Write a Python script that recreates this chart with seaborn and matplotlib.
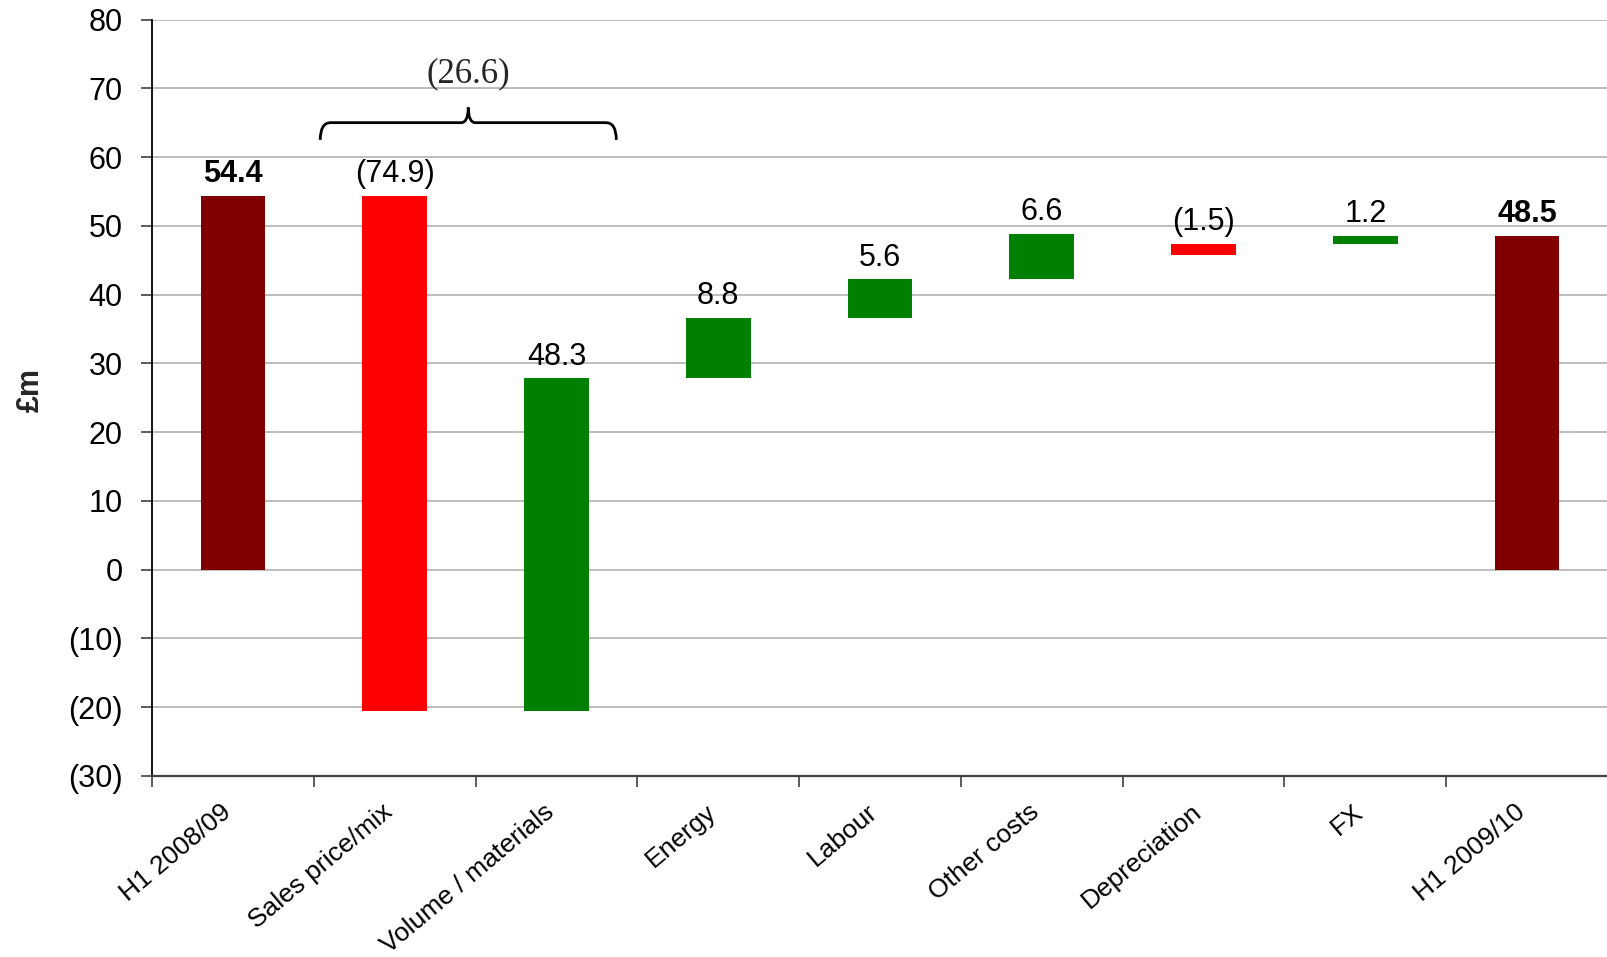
import numpy as np
import pandas as pd
import matplotlib
matplotlib.use("Agg")
import matplotlib.pyplot as plt
from matplotlib.path import Path
from matplotlib.patches import PathPatch
from matplotlib.ticker import FuncFormatter, FixedLocator
from matplotlib.transforms import ScaledTranslation
import seaborn as sns

# ---- data ----
categories = ["H1 2008/09", "Sales price/mix", "Volume / materials", "Energy",
              "Labour", "Other costs", "Depreciation", "FX", "H1 2009/10"]
changes = [54.4, -74.9, 48.3, 8.8, 5.6, 6.6, -1.5, 1.2, 48.5]
# invisible base series of the floating bars
bases = [0.0, -20.5, -20.5, 27.8, 36.6, 42.2, 45.8, 47.3, 0.0]
is_total = [True, False, False, False, False, False, False, False, True]
bracket_label = "(26.6)"
bracket_span = ["Sales price/mix", "Volume / materials"]
y_ticks = list(range(-30, 81, 10))

heights = [abs(v) for v in changes]

colors = []
for v, t in zip(changes, is_total):
    if t:
        colors.append("#800000")
    elif v >= 0:
        colors.append("#008000")
    else:
        colors.append("#FF0000")

def fmt_val(v):
    return f"({abs(v):.1f})" if v < 0 else f"{v:.1f}"

df = pd.DataFrame({"category": categories, "height": heights})

sns.set_theme(style="white")
plt.rcParams["font.family"] = ["Liberation Sans", "DejaVu Sans"]

fig = plt.figure(figsize=(16.08, 9.57), dpi=100)
ax = fig.add_axes([152 / 1608, 1 - 776 / 957, 1 - 152 / 1608, (776 - 19.5) / 957])

sns.barplot(data=df, x="category", y="height", order=categories, width=0.4,
            errorbar=None, bottom=np.array(bases), color="#800000", saturation=1,
            ax=ax, zorder=3, linewidth=0)
for p, c in zip(ax.patches, colors):
    p.set_facecolor(c)
    p.set_edgecolor("none")

# value labels
for i, (b, h, v, t) in enumerate(zip(bases, heights, changes, is_total)):
    top = b + h
    ax.annotate(fmt_val(v), xy=(i, top), xytext=(0, 10), textcoords="offset points",
                ha="center", va="baseline", fontsize=22,
                fontweight="bold" if t else "normal", color="black", zorder=5)

# axes styling
ax.set_ylim(-30, 80)
ax.set_xlim(-0.5, 8.49)
ax.yaxis.set_major_locator(FixedLocator(y_ticks))
ax.yaxis.set_major_formatter(FuncFormatter(lambda v, _: f"({abs(int(v))})" if v < 0 else f"{int(v)}"))
ax.grid(axis="y", color="#b8b8b8", linewidth=1.3, zorder=0)
ax.grid(axis="x", visible=False)
ax.set_axisbelow(True)
for s in ["top", "right"]:
    ax.spines[s].set_visible(False)
ax.spines["left"].set_color("black")
ax.spines["left"].set_linewidth(1.3)
ax.spines["bottom"].set_color("#404040")
ax.spines["bottom"].set_linewidth(1.6)

ax.tick_params(axis="y", which="major", direction="out", length=8, width=1.2,
               color="#404040", labelsize=22, pad=13, left=True, labelcolor="black")
ax.set_xticks(range(len(categories)))
ax.set_xticklabels(categories, rotation=40, ha="right", va="top", rotation_mode="anchor")
ax.set_xticks(np.arange(-0.5, len(categories), 1.0), minor=True)
ax.tick_params(axis="x", which="major", length=0, labelsize=19, pad=17, labelcolor="black")
ax.tick_params(axis="x", which="minor", direction="out", length=8, width=1.2,
               color="#404040", bottom=True)
shift = ScaledTranslation(-13 / 100, 0, fig.dpi_scale_trans)
for lab in ax.get_xticklabels():
    lab.set_transform(lab.get_transform() + shift)
ax.set_xlabel("")
ax.set_ylabel("£m", fontsize=22, fontweight="bold")
ax.yaxis.set_label_coords(-0.073, 0.51)

# bracket over the two combined bars
i0 = categories.index(bracket_span[0])
i1 = categories.index(bracket_span[1])
L, R = i0 - 0.46, i1 + 0.37
M = (L + R) / 2
yb, yh, yp = 62.5, 65.0, 67.2
dx, dxm = 0.065, 0.045
verts = [(L, yb), (L, yh), (L + dx, yh),
         (M - dxm, yh), (M, yh), (M, yp),
         (M, yh), (M + dxm, yh),
         (R - dx, yh), (R, yh), (R, yb)]
codes = [Path.MOVETO, Path.CURVE3, Path.CURVE3,
         Path.LINETO, Path.CURVE3, Path.CURVE3,
         Path.CURVE3, Path.CURVE3,
         Path.LINETO, Path.CURVE3, Path.CURVE3]
ax.add_patch(PathPatch(Path(verts, codes), facecolor="none", edgecolor="black",
                       linewidth=2.0, zorder=5, clip_on=False))
ax.text(M, 70.9, bracket_label, ha="center", va="baseline", fontsize=25,
        family=["Liberation Serif", "DejaVu Serif"], zorder=5)

fig.savefig("out.png", dpi=100)
